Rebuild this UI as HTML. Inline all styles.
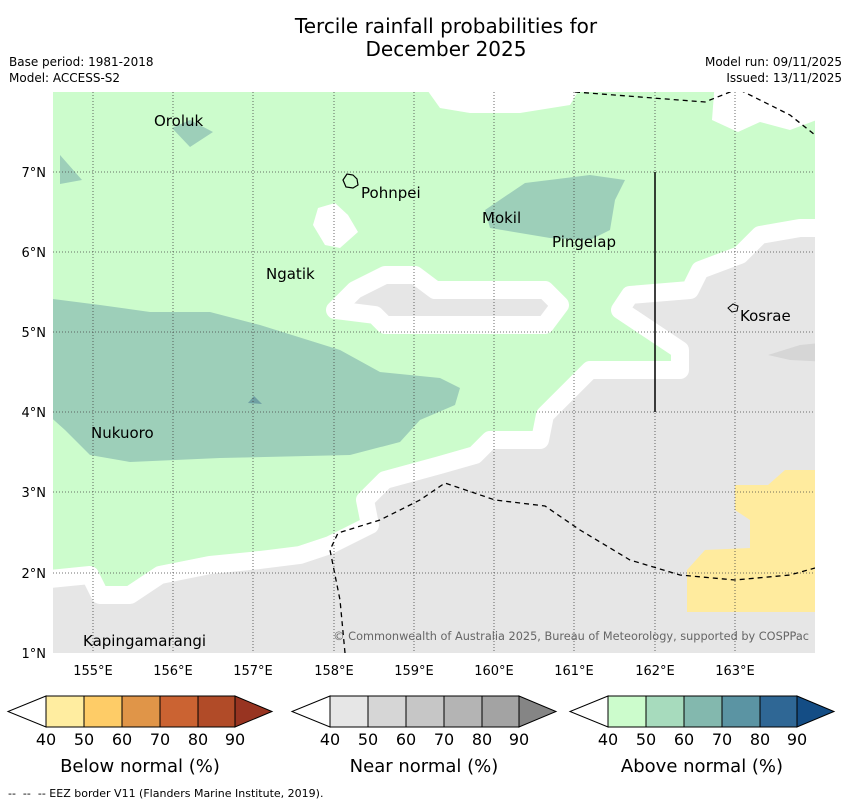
<!DOCTYPE html>
<html><head><meta charset="utf-8"><style>
body{margin:0;background:#fff;font-family:"Liberation Sans","DejaVu Sans",sans-serif;}
</style></head><body>
<svg width="850" height="804" xmlns="http://www.w3.org/2000/svg" font-family="DejaVu Sans, Liberation Sans, sans-serif">
<text x="446" y="33" font-size="20" text-anchor="middle">Tercile rainfall probabilities for</text>
<text x="446" y="56" font-size="20" text-anchor="middle">December 2025</text>
<text x="9" y="66" font-size="12">Base period: 1981-2018</text>
<text x="9" y="82" font-size="12">Model: ACCESS-S2</text>
<text x="842" y="66" font-size="12" text-anchor="end">Model run: 09/11/2025</text>
<text x="842" y="82" font-size="12" text-anchor="end">Issued: 13/11/2025</text>
<defs><clipPath id="mc"><rect x="53" y="92" width="762" height="561"/></clipPath></defs>
<g clip-path="url(#mc)">
<rect x="53" y="92" width="762" height="561" fill="#ccfccc"/>
<polygon points="420,80 585,80 570,105 520,113 470,113 440,108" fill="#fff"/>
<polygon points="715,80 830,80 830,115 790,130 760,122 738,132 712,120" fill="#fff"/>
<polygon points="318,208 335,203 348,215 358,232 340,248 325,245 313,225" fill="#fff"/>
<g fill="#e6e6e6" stroke="#fff" stroke-width="18" stroke-linejoin="round">
<polygon points="40,580 90,575 100,595 130,595 160,575 210,565 260,560 300,555 330,545 370,525 365,500 385,480 440,465 475,455 490,440 540,440 545,415 590,370 680,370 680,350 620,310 630,295 690,290 700,270 740,255 760,235 800,228 830,228 830,670 40,670"/>
<polygon points="335,310 355,290 385,275 415,275 435,290 545,290 560,305 545,325 385,325 375,315"/>
</g>
<polygon points="768,355 800,345 830,342 830,362 790,360" fill="#d6d6d6"/>
<g fill="#9dcfb9">
<polygon points="45,298 100,305 150,312 210,312 260,325 340,350 380,372 440,378 460,388 455,405 420,420 400,442 350,455 220,458 130,462 90,455 65,430 45,412"/>
<polygon points="485,210 525,183 590,175 625,180 615,200 610,230 590,240 550,238 490,228"/>
<polygon points="172,128 190,120 213,132 190,147"/>
<polygon points="60,155 82,180 60,184"/>
</g>
<polygon points="248,403 254,396 262,404" fill="#6f9fa3"/>
<polygon points="735,485 768,485 785,470 830,470 830,612 687,612 687,570 705,550 750,548 750,520 735,510" fill="#ffeb9e"/>
<g stroke="#444" stroke-width="0.8" stroke-dasharray="1,2" fill="none">
<path d="M93,92V653M173,92V653M253,92V653M334,92V653M414,92V653M494,92V653M574,92V653M655,92V653M735,92V653"/>
<path d="M53,172H815M53,252H815M53,332H815M53,412H815M53,492H815M53,573H815"/>
</g>
<g stroke="#000" stroke-width="1.3" stroke-dasharray="5,4" fill="none">
<polyline points="575,92 705,102 740,88"/>
<polyline points="740,90 790,115 815,135"/>
<polyline points="345,653 340,600 330,550 338,533 380,520 420,500 445,483 495,500 545,506 580,530 630,560 680,575 735,580 790,575 815,568"/>
</g>
<line x1="655" y1="172" x2="655" y2="412" stroke="#000" stroke-width="1.5"/>
<path d="M343,180 l4,-6 6,1 4,4 1,6 -5,3 -7,-1z" fill="none" stroke="#000" stroke-width="1.2"/>
<path d="M728,308 l5,-4 5,2 -1,5 -5,1z" fill="none" stroke="#000" stroke-width="1"/>
<text x="809" y="640" font-size="11.3" fill="#666" text-anchor="end">© Commonwealth of Australia 2025, Bureau of Meteorology, supported by COSPPac</text>
</g>
<g font-size="15" fill="#000">
<text x="154" y="126">Oroluk</text><text x="361" y="198">Pohnpei</text><text x="482" y="223">Mokil</text>
<text x="552" y="247">Pingelap</text><text x="266" y="279">Ngatik</text><text x="740" y="321">Kosrae</text>
<text x="91" y="438">Nukuoro</text><text x="83" y="646">Kapingamarangi</text>
</g>
<g font-size="13" fill="#000">
<text x="93" y="675" text-anchor="middle">155°E</text><text x="173" y="675" text-anchor="middle">156°E</text><text x="253" y="675" text-anchor="middle">157°E</text><text x="334" y="675" text-anchor="middle">158°E</text><text x="414" y="675" text-anchor="middle">159°E</text><text x="494" y="675" text-anchor="middle">160°E</text><text x="574" y="675" text-anchor="middle">161°E</text><text x="655" y="675" text-anchor="middle">162°E</text><text x="735" y="675" text-anchor="middle">163°E</text>
<text x="46" y="177" text-anchor="end">7°N</text><text x="46" y="257" text-anchor="end">6°N</text><text x="46" y="337" text-anchor="end">5°N</text><text x="46" y="417" text-anchor="end">4°N</text><text x="46" y="497" text-anchor="end">3°N</text><text x="46" y="578" text-anchor="end">2°N</text><text x="46" y="658" text-anchor="end">1°N</text>
</g>
<g stroke="#000" stroke-width="1">
<polygon points="46,696 8,711.5 46,727" fill="#fff"/>
<rect x="46" y="696" width="38" height="31" fill="#ffeda0"/><rect x="84" y="696" width="38" height="31" fill="#fecc67"/><rect x="122" y="696" width="38" height="31" fill="#e09548"/><rect x="160" y="696" width="38" height="31" fill="#cb6332"/><rect x="198" y="696" width="37" height="31" fill="#b14b28"/>
<polygon points="235,696 272,711.5 235,727" fill="#983421"/>
</g>
<g stroke="#000" stroke-width="1">
<polygon points="330,696 292,711.5 330,727" fill="#fff"/>
<rect x="330" y="696" width="38" height="31" fill="#e6e6e6"/><rect x="368" y="696" width="38" height="31" fill="#d6d6d6"/><rect x="406" y="696" width="38" height="31" fill="#c6c6c6"/><rect x="444" y="696" width="38" height="31" fill="#b4b4b4"/><rect x="482" y="696" width="37" height="31" fill="#a3a3a3"/>
<polygon points="519,696 556,711.5 519,727" fill="#858585"/>
</g>
<g stroke="#000" stroke-width="1">
<polygon points="608,696 570,711.5 608,727" fill="#fff"/>
<rect x="608" y="696" width="38" height="31" fill="#ccfccc"/><rect x="646" y="696" width="38" height="31" fill="#a7dbbd"/><rect x="684" y="696" width="38" height="31" fill="#83b8ae"/><rect x="722" y="696" width="38" height="31" fill="#5b94a3"/><rect x="760" y="696" width="37" height="31" fill="#2f6795"/>
<polygon points="797,696 834,711.5 797,727" fill="#144d85"/>
</g>
<g font-size="16" text-anchor="middle">
<text x="46" y="745">40</text><text x="84" y="745">50</text><text x="122" y="745">60</text><text x="160" y="745">70</text><text x="198" y="745">80</text><text x="235" y="745">90</text>
<text x="330" y="745">40</text><text x="368" y="745">50</text><text x="406" y="745">60</text><text x="444" y="745">70</text><text x="482" y="745">80</text><text x="519" y="745">90</text>
<text x="608" y="745">40</text><text x="646" y="745">50</text><text x="684" y="745">60</text><text x="722" y="745">70</text><text x="760" y="745">80</text><text x="797" y="745">90</text>
</g>
<g font-size="18" text-anchor="middle">
<text x="140" y="772">Below normal (%)</text><text x="424" y="772">Near normal (%)</text><text x="702" y="772">Above normal (%)</text>
</g>
<text x="8" y="797" font-size="11" xml:space="preserve">--  --  -- EEZ border V11 (Flanders Marine Institute, 2019).</text>
</svg>
</body></html>
